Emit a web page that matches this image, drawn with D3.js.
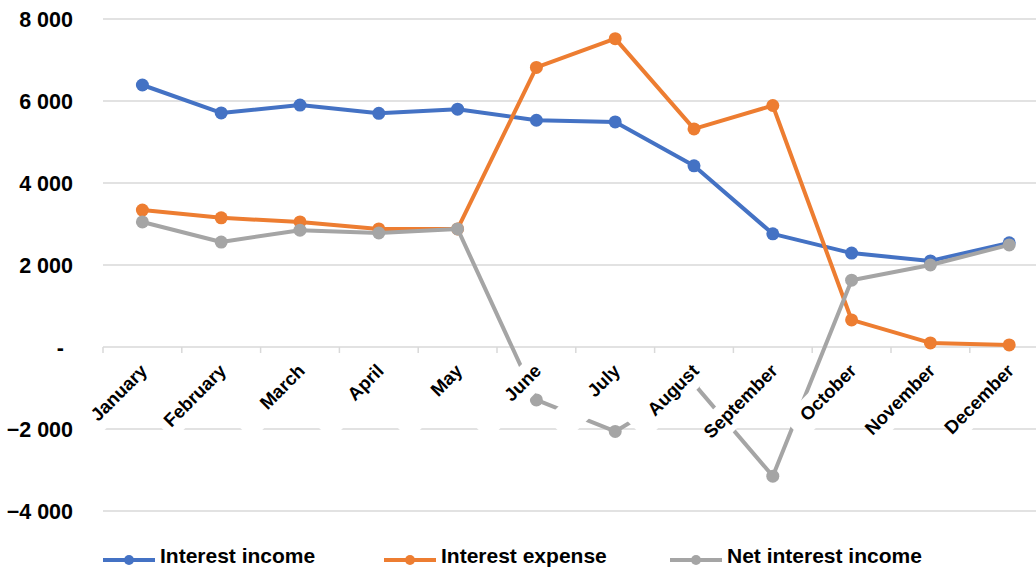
<!DOCTYPE html>
<html>
<head>
<meta charset="utf-8">
<script src="https://cdn.jsdelivr.net/npm/d3@7"></script>
<style>
  html, body { margin: 0; padding: 0; background: #fff; }
  svg { display: block; }
  text { font-family: "Liberation Sans", Arial, sans-serif; font-weight: bold; fill: #000; }
</style>
</head>
<body>
<svg id="chart" width="1036" height="569"></svg>
<script>
const months = ["January","February","March","April","May","June","July","August","September","October","November","December"];
const interestIncome  = [6390, 5710, 5900, 5700, 5800, 5530, 5490, 4420, 2760, 2290, 2100, 2540];
const interestExpense = [3340, 3150, 3050, 2880, 2880, 6820, 7520, 5320, 5890, 660, 100, 50];
const netInterest     = [3050, 2560, 2850, 2780, 2880, -1290, -2060, -900, -3150, 1630, 2000, 2490];
const yTicks = [-4000, -2000, 0, 2000, 4000, 6000, 8000];
const seriesNames = ["Interest income", "Interest expense", "Net interest income"];
const seriesColors = ["#4472C4", "#ED7D31", "#A5A5A5"];

const svg = d3.select("#chart");
const W = 1036, H = 569;
svg.append("rect").attr("width", W).attr("height", H).attr("fill", "#fff");

const x = d3.scaleBand().domain(months).range([103, 103 + 12 * 78.8]);
const y = d3.scaleLinear().domain([-4000, 8000]).range([511, 19]);
const cx = m => x(m) + x.bandwidth() / 2;

// gridlines
svg.append("g").selectAll("line").data(yTicks.filter(t => t !== 0)).join("line")
  .attr("x1", 103).attr("x2", W)
  .attr("y1", d => y(d)).attr("y2", d => y(d))
  .attr("stroke", "#d9d9d9").attr("stroke-width", 1.5);

// y labels
const yAxis = d3.axisLeft(y).tickValues(yTicks).tickSize(0)
  .tickFormat(d => d === 0 ? "-" : d3.format(",")(d).replace(/,/g, " "));
const yg = svg.append("g").attr("transform", "translate(73,0)").call(yAxis);
yg.select(".domain").remove();
yg.selectAll("text").attr("x", 0).attr("dy", "0.36em")
  .style("font-size", "21.5px").style("font-family", "Liberation Sans, Arial, sans-serif").style("font-weight", "bold")
  .attr("fill", "#000");
yg.selectAll(".tick").filter(d => d === 0).select("text").attr("x", -9);

// zero axis with ticks
svg.append("line").attr("x1", 103).attr("x2", W).attr("y1", y(0)).attr("y2", y(0))
  .attr("stroke", "#d9d9d9").attr("stroke-width", 1.5);
const bounds = months.map(m => x(m)).concat([x(months[11]) + x.bandwidth()]);
svg.append("g").selectAll("line").data(bounds).join("line")
  .attr("x1", d => d).attr("x2", d => d).attr("y1", y(0)).attr("y2", y(0) + 6)
  .attr("stroke", "#d9d9d9").attr("stroke-width", 1.5);

// series
const allSeries = [interestIncome, interestExpense, netInterest];
const line = d3.line().x((d, i) => cx(months[i])).y(d => y(d));
allSeries.forEach((vals, s) => {
  const g = svg.append("g");
  g.append("path").datum(vals).attr("d", line).attr("fill", "none")
    .attr("stroke", seriesColors[s]).attr("stroke-width", 4).attr("stroke-linejoin", "round").attr("stroke-linecap", "round");
  g.selectAll("circle").data(vals).join("circle")
    .attr("cx", (d, i) => cx(months[i])).attr("cy", d => y(d)).attr("r", 6.5)
    .attr("fill", seriesColors[s]);
});

// category labels with white label boxes (equal-size boxes, right aligned)
const lab = svg.append("g");
months.forEach(m => {
  const g = lab.append("g").attr("transform", `translate(${cx(m) + 6},372) rotate(-45)`);
  g.append("rect").attr("fill", "#fff").attr("x", -86).attr("width", 90).attr("y", -20).attr("height", 30);
  g.append("text").attr("text-anchor", "end").style("font-size", "18.5px").text(m);
});

// legend
const legendX = [103, 384, 670];
const lg = svg.append("g");
seriesNames.forEach((n, i) => {
  const g = lg.append("g").attr("transform", `translate(${legendX[i]},560)`);
  g.append("line").attr("x1", 0).attr("x2", 52).attr("y1", 0).attr("y2", 0)
    .attr("stroke", seriesColors[i]).attr("stroke-width", 4);
  g.append("circle").attr("cx", 26).attr("cy", 0).attr("r", 5).attr("fill", seriesColors[i]);
  g.append("text").attr("x", 57).attr("y", 3).style("font-size", "21px").text(n);
});
</script>
</body>
</html>
